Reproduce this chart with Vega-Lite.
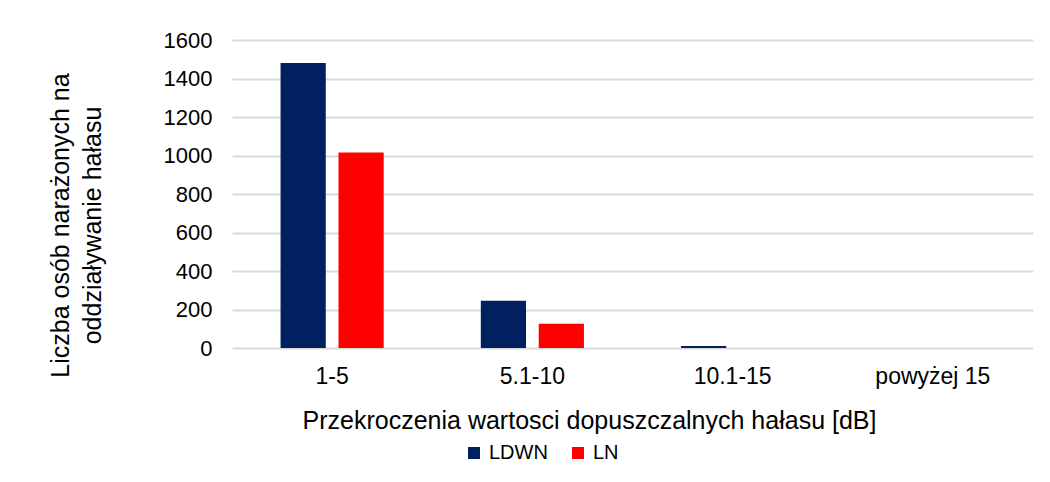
{
  "$schema": "https://vega.github.io/schema/vega-lite/v6.json",
  "autosize": "none",
  "width": 801,
  "height": 308,
  "padding": {"left": 232, "top": 40, "right": 17, "bottom": 134},
  "background": "white",
  "config": {
    "font": "Liberation Sans",
    "view": {"stroke": null}
  },
  "data": {
    "values": [
      {"kat": "1-5", "seria": "LDWN", "wartosc": 1480},
      {"kat": "1-5", "seria": "LN", "wartosc": 1016},
      {"kat": "5.1-10", "seria": "LDWN", "wartosc": 245},
      {"kat": "5.1-10", "seria": "LN", "wartosc": 126},
      {"kat": "10.1-15", "seria": "LDWN", "wartosc": 10},
      {"kat": "10.1-15", "seria": "LN", "wartosc": 0},
      {"kat": "powyżej 15", "seria": "LDWN", "wartosc": 0},
      {"kat": "powyżej 15", "seria": "LN", "wartosc": 0}
    ]
  },
  "mark": {"type": "bar"},
  "encoding": {
    "x": {
      "field": "kat",
      "type": "nominal",
      "sort": ["1-5", "5.1-10", "10.1-15", "powyżej 15"],
      "scale": {"paddingInner": 0.485, "paddingOuter": 0.2425},
      "axis": {
        "title": "Przekroczenia wartosci dopuszczalnych hałasu [dB]",
        "labelAngle": 0,
        "labelFontSize": 23,
        "labelColor": "#000000",
        "labelPadding": 17,
        "ticks": false,
        "domain": false,
        "titleFontSize": 25,
        "titleFontWeight": "normal",
        "titleColor": "#000000",
        "titleX": 357,
        "titleY": 72,
        "titleBaseline": "middle"
      }
    },
    "xOffset": {
      "field": "seria",
      "type": "nominal",
      "scale": {"paddingInner": 0.22, "paddingOuter": 0}
    },
    "y": {
      "field": "wartosc",
      "type": "quantitative",
      "scale": {"domain": [0, 1600], "nice": false},
      "axis": {
        "values": [0, 200, 400, 600, 800, 1000, 1200, 1400, 1600],
        "format": "d",
        "title": ["Liczba osób narażonych na", "oddziaływanie hałasu"],
        "labelFontSize": 22,
        "labelColor": "#000000",
        "labelPadding": 20,
        "ticks": false,
        "domain": false,
        "gridColor": "#d9d9d9",
        "gridWidth": 2,
        "titleFontSize": 25,
        "titleFontWeight": "normal",
        "titleColor": "#000000",
        "titleAngle": -90,
        "titleAlign": "center",
        "titleBaseline": "middle",
        "titleLineHeight": 32,
        "titleX": -172,
        "titleY": 185
      }
    },
    "color": {
      "field": "seria",
      "type": "nominal",
      "scale": {"domain": ["LDWN", "LN"], "range": ["#002060", "#ff0000"]},
      "legend": {
        "title": null,
        "orient": "none",
        "legendX": 232,
        "legendY": 403,
        "direction": "horizontal",
        "symbolType": "square",
        "symbolSize": 144,
        "symbolStrokeWidth": 0,
        "labelFontSize": 20,
        "labelColor": "#000000",
        "labelOffset": 5,
        "columnPadding": 20
      }
    }
  }
}
